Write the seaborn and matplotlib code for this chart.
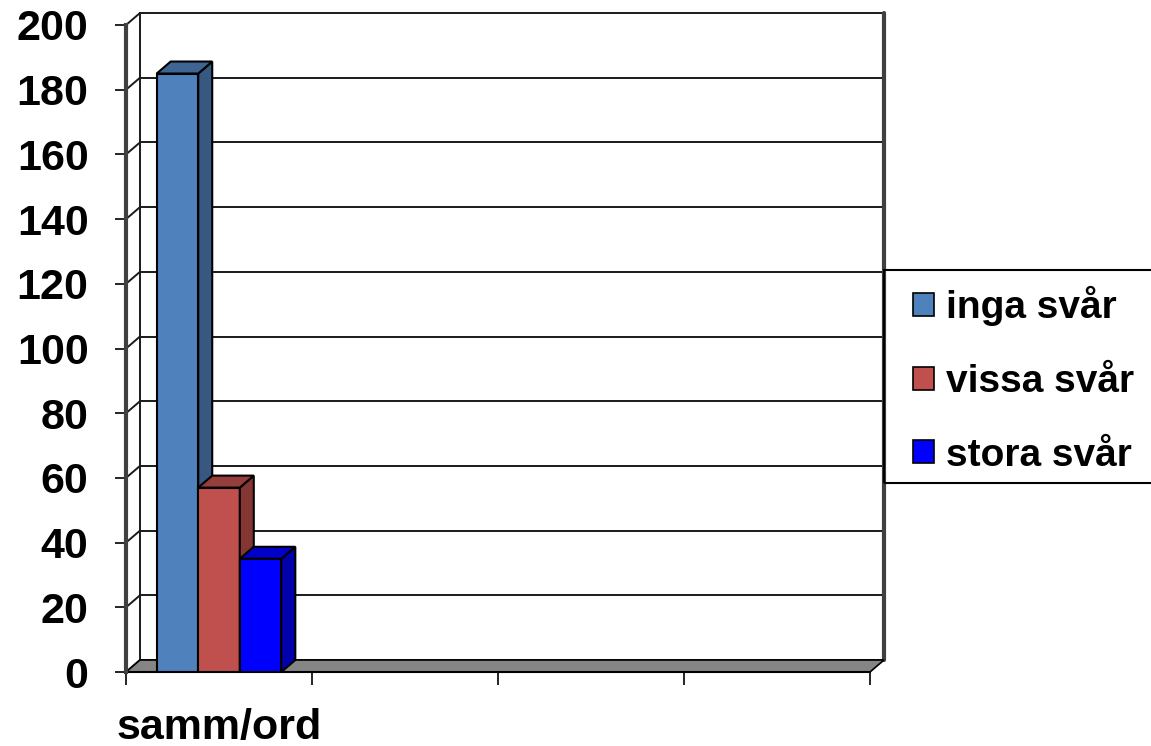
import numpy as np
import pandas as pd
import seaborn as sns
import matplotlib.pyplot as plt
from matplotlib.patches import Polygon, Rectangle, Patch
from matplotlib.colors import to_rgb

# data
categories = ["samm/ord"]
series = ["inga svår", "vissa svår", "stora svår"]
values = [185, 57, 35]
colors = ["#4F81BD", "#C0504D", "#0000FF"]
y_ticks = [0, 20, 40, 60, 80, 100, 120, 140, 160, 180, 200]
n_slots = 4  # the x axis has room for 4 categories, only the first is used

df = pd.DataFrame({"kategori": categories * len(series),
                   "grupp": series,
                   "antal": values})

sns.set_style("white")
plt.rcParams['font.family'] = ['Liberation Sans', 'DejaVu Sans']
plt.rcParams['font.weight'] = 'bold'
plt.rcParams['text.color'] = 'black'
plt.rcParams['xtick.labelcolor'] = 'black'
plt.rcParams['ytick.labelcolor'] = 'black'

W, H = 1151, 746
fig = plt.figure(figsize=(W / 100, H / 100), dpi=100)
ax = fig.add_axes([126 / W, 1 - 672 / H, 744 / W, 647 / H])

sns.barplot(data=df, x="kategori", y="antal", hue="grupp", hue_order=series,
            palette=colors, width=0.67, saturation=1, edgecolor="black",
            linewidth=1.5, legend=False, ax=ax)
bars = [b for c in ax.containers for b in c]

x0, x1 = -0.5, n_slots - 0.5
ax.set_xlim(x0, x1)
ax.set_ylim(0, 200)

# 3d depth offset (pixels -> data units)
bb = ax.get_window_extent()
dx = 14 / (bb.width / (x1 - x0))
dy = 12 / (bb.height / 200)

# back wall grid + left wall diagonals
for v in y_ticks:
    ax.plot([x0 + dx, x1 + dx], [v + dy, v + dy], color="#1a1a1a", lw=1.4,
            clip_on=False, zorder=0.5)
    ax.plot([x0, x0 + dx], [v, v + dy], color="#1a1a1a", lw=1.4,
            clip_on=False, zorder=0.5)
ax.plot([x0 + dx] * 2, [dy, 200 + dy], color="#1a1a1a", lw=1.4, clip_on=False, zorder=0.5)
ax.plot([x1 + dx] * 2, [dy, 200 + dy], color="#404040", lw=3, clip_on=False, zorder=0.6)

# floor
ax.add_patch(Polygon([(x0, 0), (x1, 0), (x1 + dx, dy), (x0 + dx, dy)],
                     closed=True, fc="#858585", ec="black", lw=1.2,
                     clip_on=False, zorder=1))

# side and top faces of the columns
for i, p in enumerate(bars):
    x, w, h = p.get_x(), p.get_width(), p.get_height()
    base = np.array(to_rgb(p.get_facecolor()))
    z = 3 + i
    p.set_zorder(z)
    side = Polygon([(x + w, 0), (x + w + dx, dy), (x + w + dx, h + dy), (x + w, h)],
                   closed=True, fc=base * 0.68, ec="black", lw=1.5, zorder=z, clip_on=False)
    top = Polygon([(x, h), (x + dx, h + dy), (x + w + dx, h + dy), (x + w, h)],
                  closed=True, fc=base * 0.78, ec="black", lw=1.5, zorder=z, clip_on=False)
    ax.add_patch(side)
    ax.add_patch(top)

# axes styling
for s in ["top", "right"]:
    ax.spines[s].set_visible(False)
ax.spines["left"].set_color("#404040")
ax.spines["left"].set_linewidth(3)
ax.spines["bottom"].set_color("black")
ax.spines["bottom"].set_linewidth(1.5)
ax.spines["bottom"].set_zorder(2)

ax.set_yticks(y_ticks)
ax.tick_params(axis="y", left=True, length=8, width=1.2, pad=19, labelsize=31,
               direction="out", color="black", labelcolor="black")
ax.set_xticks(range(len(categories)), categories)
ax.set_xticks(np.arange(n_slots + 1) - 0.5, minor=True)
ax.tick_params(axis="x", which="major", length=0, pad=26, labelsize=31,
               labelcolor="black")
ax.tick_params(axis="x", which="minor", bottom=True, length=9.5, width=1.2,
               direction="out", color="black")
ax.set_xlabel("")
ax.set_ylabel("")

# legend (box runs off the right edge)
handles = [Patch(fc=c, ec="black", lw=1.2) for c in colors]
fig.legend(handles, series, loc="upper left",
           bbox_to_anchor=(913 / W, 1 - 286 / H), frameon=False,
           prop={"size": 28, "weight": "bold"}, borderpad=0, borderaxespad=0,
           handlelength=0.54, handleheight=0.54, handletextpad=0.3,
           labelspacing=0.97, labelcolor="black")
fig.add_artist(Rectangle((884 / W, 1 - 483 / H), 0.3, 213 / H,
                         transform=fig.transFigure, fill=False, ec="black", lw=1.5))

fig.savefig("out.png", dpi=100)
